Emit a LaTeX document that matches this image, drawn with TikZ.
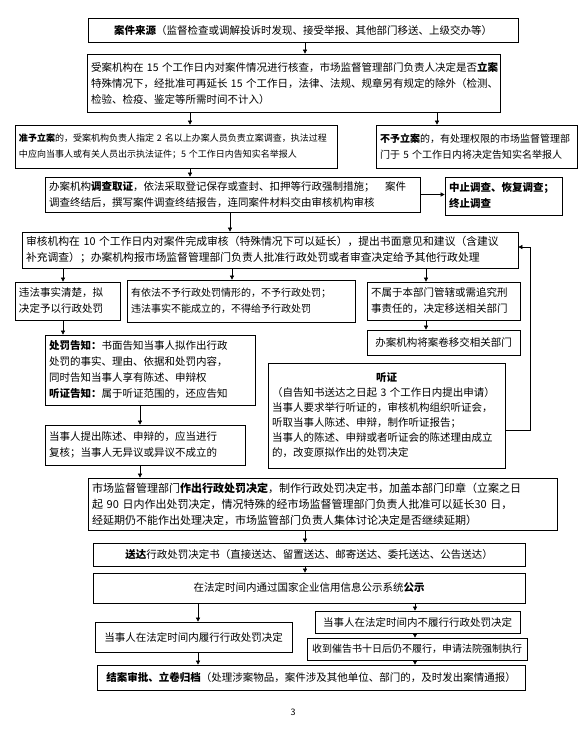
\documentclass[tikz,border=0pt]{standalone}
\usepackage{fontspec}
\setmainfont{Noto Sans CJK SC}
\usetikzlibrary{arrows.meta}
\tikzset{
  bx/.style={draw, line width=0.7pt, inner xsep=4pt, inner ysep=0pt, font=\fontsize{10.5}{16}\selectfont},
  al/.style={align=left},
  ac/.style={align=center},
  arr/.style={line width=0.6pt, -{Triangle[length=4pt,width=4pt]}},
  ln/.style={line width=0.6pt}
}
\newcommand{\mkbox}[7][]{%
  \node[bx, minimum width={#5pt-#3pt}, minimum height={#6pt-#4pt}, text width={#5pt-#3pt-8pt}, #1] (#2) at ({(#3+#5)/2},{(#4+#6)/2}) {#7};}
\begin{document}
\begin{tikzpicture}[x=1pt,y=-1pt]
\useasboundingbox (0,0) rectangle (588,736);
\mkbox[ac]{b1}{88}{18}{518}{42}{{\bfseries 案件来源}（监督检查或调解投诉时发现、接受举报、其他部门移送、上级交办等）}
\mkbox[al]{b2}{87}{54}{500}{112}{受案机构在 15 个工作日内对案件情况进行核查，市场监督管理部门负责人决定是否{\bfseries 立案}\\特殊情况下，经批准可再延长 15 个工作日，法律、法规、规章另有规定的除外（检测、\\检验、检疫、鉴定等所需时间不计入）}
\mkbox[al,font=\fontsize{9}{16}\selectfont]{b3l}{15}{125}{337}{168}{{\bfseries 准予立案}的，受案机构负责人指定~2~名以上办案人员负责立案调查，执法过程\\中应向当事人或有关人员出示执法证件；5~个工作日内告知实名举报人}
\mkbox[al,font=\fontsize{10}{16}\selectfont]{b3r}{376}{125}{577}{168}{{\bfseries 不予立案}的，有处理权限的市场监督管理部\\门于 5 个工作日内将决定告知实名举报人}
\mkbox[al]{b4}{45}{177}{420}{212}{办案机构{\bfseries 调查取证}，依法采取登记保存或查封、扣押等行政强制措施；\hspace{1em}案件\\调查终结后，撰写案件调查终结报告，连同案件材料交由审核机构审核}
\mkbox[al,font=\bfseries\fontsize{10.5}{16}\selectfont]{b4r}{445}{177}{562}{215}{中止调查、恢复调查；\\终止调查}
\mkbox[al,font=\fontsize{10.8}{16}\selectfont]{b5}{22}{232}{518}{268}{审核机构在 10 个工作日内对案件完成审核（特殊情况下可以延长），提出书面意见和建议（含建议\\补充调查）；办案机构报市场监督管理部门负责人批准行政处罚或者审查决定给予其他行政处理}
\mkbox[al]{b6a}{15}{282}{120}{320}{违法事实清楚，拟\\决定予以行政处罚}
\mkbox[al,font=\fontsize{10}{16}\selectfont]{b6b}{127}{280}{355}{322}{有依法不予行政处罚情形的，不予行政处罚；\\违法事实不能成立的，不得给予行政处罚}
\mkbox[al]{b6c}{367}{282}{520}{320}{不属于本部门管辖或需追究刑\\事责任的，决定移送相关部门}
\mkbox[ac]{b7c}{367}{330}{520}{355}{办案机构将案卷移交相关部门}
\mkbox[al]{b7}{45}{335}{255}{405}{{\bfseries 处罚告知：}书面告知当事人拟作出行政\\处罚的事实、理由、依据和处罚内容，\\同时告知当事人享有陈述、申辩权\\{\bfseries 听证告知：}属于听证范围的，还应告知}
\mkbox[al,font=\fontsize{10.5}{15}\selectfont]{bh}{268}{363}{505}{468}{\makebox[\linewidth]{\bfseries 听证}\\（自告知书送达之日起 3 个工作日内提出申请）\\当事人要求举行听证的，审核机构组织听证会，\\听取当事人陈述、申辩，制作听证报告；\\当事人的陈述、申辩或者听证会的陈述理由成立\\的，改变原拟作出的处罚决定}
\mkbox[al]{b8}{45}{425}{245}{465}{当事人提出陈述、申辩的，应当进行\\复核；当事人无异议或异议不成立的}
\mkbox[al,font=\fontsize{11}{16}\selectfont]{b9}{88}{478}{557}{530}{市场监督管理部门{\bfseries 作出行政处罚决定}，制作行政处罚决定书，加盖本部门印章（立案之日\\起 90 日内作出处罚决定，情况特殊的经市场监督管理部门负责人批准可以延长30 日，\\经延期仍不能作出处理决定，市场监管部门负责人集体讨论决定是否继续延期）}
\mkbox[ac]{b10}{93}{543}{525}{566}{{\bfseries 送达}行政处罚决定书（直接送达、留置送达、邮寄送达、委托送达、公告送达）}
\mkbox[ac]{b11}{93}{573}{525}{603}{在法定时间内通过国家企业信用信息公示系统{\bfseries 公示}}
\mkbox[ac]{b12l}{95}{622}{292}{652}{当事人在法定时间内履行行政处罚决定}
\mkbox[ac]{b12r}{315}{611}{520}{633}{当事人在法定时间内不履行行政处罚决定}
\mkbox[ac,font=\fontsize{10}{16}\selectfont]{b13r}{307}{638}{527}{660}{收到催告书十日后仍不履行，申请法院强制执行}
\mkbox[ac]{b14}{97}{665}{525}{690}{{\bfseries 结案审批、立卷归档}（处理涉案物品，案件涉及其他单位、部门的，及时发出案情通报）}
\node[font=\fontsize{9}{11}\selectfont] (pg) at (293,712) {3};
% arrows
\draw[arr] (305,0 |- b1.south) -- (305,0 |- b2.north);
\draw[arr] (190,0 |- b2.south) -- (190,0 |- b3l.north);
\draw[arr] (437,0 |- b2.south) -- (437,0 |- b3r.north);
\draw[arr] (190,0 |- b3l.south) -- (190,0 |- b4.north);
\draw[arr] (b4.east) -- (b4.east -| b4r.west);
\draw[arr] (230,0 |- b4.south) -- (230,0 |- b5.north);
\draw[arr] (63,0 |- b5.south) -- (63,0 |- b6a.north);
\draw[arr] (232,0 |- b5.south) -- (232,0 |- b6b.north);
\draw[arr] (426,0 |- b5.south) -- (426,0 |- b6c.north);
\draw[arr] (63,0 |- b6a.south) -- (63,0 |- b7.north);
\draw[arr] (426,0 |- b6c.south) -- (426,0 |- b7c.north);
\draw[arr] (140,0 |- b7.south) -- (140,0 |- b8.north);
\draw[arr] (140,0 |- b8.south) -- (140,0 |- b9.north);
\draw[arr] (305,0 |- b9.south) -- (305,0 |- b10.north);
\draw[arr] (305,0 |- b10.south) -- (305,0 |- b11.north);
\draw[arr] (198,0 |- b11.south) -- (198,0 |- b12l.north);
\draw[arr] (415,0 |- b11.south) -- (415,0 |- b12r.north);
\draw[arr] (415,0 |- b12r.south) -- (415,0 |- b13r.north);
\draw[arr] (198,0 |- b12l.south) -- (198,0 |- b14.north);
\draw[arr] (415,0 |- b13r.south) -- (415,0 |- b14.north);
\coordinate (fb) at (530,247);
\draw[arr] ([yshift=-15pt]bh.east) -| (fb) -- (fb -| b5.east);
\end{tikzpicture}
\end{document}
